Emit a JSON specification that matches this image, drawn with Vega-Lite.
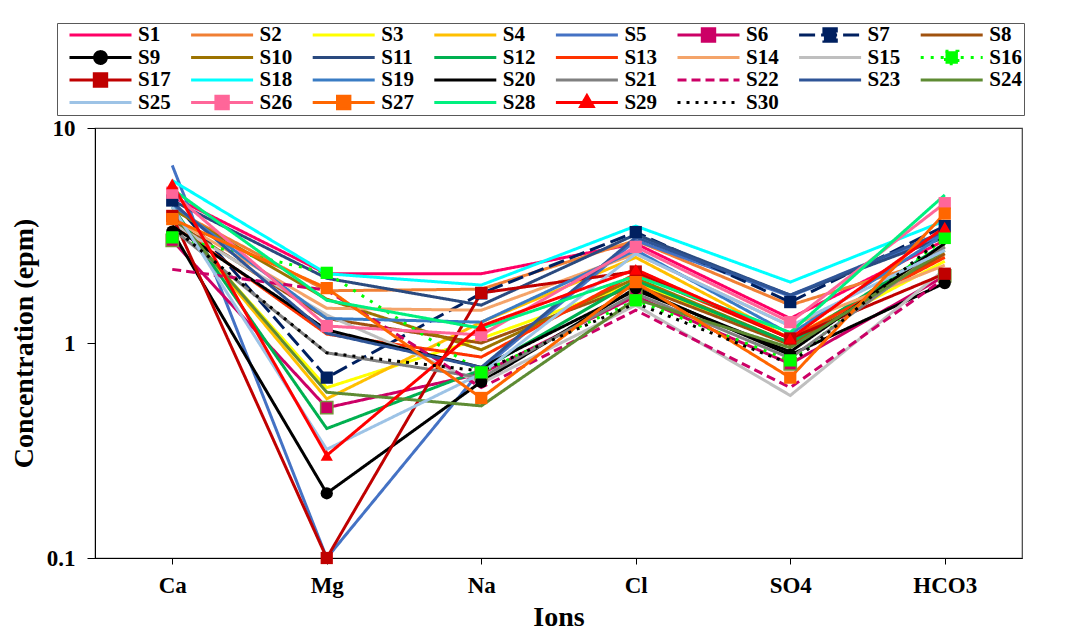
{
  "$schema": "https://vega.github.io/schema/vega-lite/v6.json",
  "width": 927,
  "height": 430,
  "autosize": {"type": "none"},
  "padding": {"left": 95, "top": 128, "right": 47, "bottom": 75},
  "background": "white",
  "config": {
    "view": {"stroke": "#404040", "strokeWidth": 1.2},
    "font": "Liberation Serif",
    "axis": {
      "labelFont": "Liberation Serif", "labelFontWeight": "bold", "labelFontSize": 23, "labelColor": "black",
      "titleFont": "Liberation Serif", "titleFontWeight": "bold", "titleFontSize": 28, "titleColor": "black",
      "domainColor": "black", "tickColor": "black", "grid": false
    }
  },
  "datasets": {
    "ions": [
      {"series":"S1","ion":"Ca","value":4.8},{"series":"S1","ion":"Mg","value":2.1},{"series":"S1","ion":"Na","value":2.1},{"series":"S1","ion":"Cl","value":2.9},{"series":"S1","ion":"SO4","value":1.3},{"series":"S1","ion":"HCO3","value":3.0},
      {"series":"S2","ion":"Ca","value":4.2},{"series":"S2","ion":"Mg","value":1.75},{"series":"S2","ion":"Na","value":1.78},{"series":"S2","ion":"Cl","value":3.0},{"series":"S2","ion":"SO4","value":1.5},{"series":"S2","ion":"HCO3","value":2.5},
      {"series":"S3","ion":"Ca","value":3.9},{"series":"S3","ion":"Mg","value":0.62},{"series":"S3","ion":"Na","value":1.05},{"series":"S3","ion":"Cl","value":1.9},{"series":"S3","ion":"SO4","value":1.0},{"series":"S3","ion":"HCO3","value":2.4},
      {"series":"S4","ion":"Ca","value":4.0},{"series":"S4","ion":"Mg","value":0.55},{"series":"S4","ion":"Na","value":1.25},{"series":"S4","ion":"Cl","value":2.5},{"series":"S4","ion":"SO4","value":1.05},{"series":"S4","ion":"HCO3","value":2.6},
      {"series":"S5","ion":"Ca","value":6.7},{"series":"S5","ion":"Mg","value":0.1},{"series":"S5","ion":"Na","value":0.75},{"series":"S5","ion":"Cl","value":3.0},{"series":"S5","ion":"SO4","value":1.65},{"series":"S5","ion":"HCO3","value":3.2},
      {"series":"S6","ion":"Ca","value":3.0},{"series":"S6","ion":"Mg","value":0.5},{"series":"S6","ion":"Na","value":0.72},{"series":"S6","ion":"Cl","value":1.65},{"series":"S6","ion":"SO4","value":0.8},{"series":"S6","ion":"HCO3","value":2.05},
      {"series":"S7","ion":"Ca","value":4.6},{"series":"S7","ion":"Mg","value":0.69},{"series":"S7","ion":"Na","value":1.7},{"series":"S7","ion":"Cl","value":3.28},{"series":"S7","ion":"SO4","value":1.55},{"series":"S7","ion":"HCO3","value":3.5},
      {"series":"S8","ion":"Ca","value":3.7},{"series":"S8","ion":"Mg","value":1.3},{"series":"S8","ion":"Na","value":1.0},{"series":"S8","ion":"Cl","value":1.85},{"series":"S8","ion":"SO4","value":0.98},{"series":"S8","ion":"HCO3","value":2.6},
      {"series":"S9","ion":"Ca","value":3.3},{"series":"S9","ion":"Mg","value":0.2},{"series":"S9","ion":"Na","value":0.66},{"series":"S9","ion":"Cl","value":1.8},{"series":"S9","ion":"SO4","value":0.88},{"series":"S9","ion":"HCO3","value":1.9},
      {"series":"S10","ion":"Ca","value":4.2},{"series":"S10","ion":"Mg","value":1.6},{"series":"S10","ion":"Na","value":0.93},{"series":"S10","ion":"Cl","value":2.0},{"series":"S10","ion":"SO4","value":1.0},{"series":"S10","ion":"HCO3","value":2.8},
      {"series":"S11","ion":"Ca","value":4.6},{"series":"S11","ion":"Mg","value":2.0},{"series":"S11","ion":"Na","value":1.5},{"series":"S11","ion":"Cl","value":3.2},{"series":"S11","ion":"SO4","value":1.67},{"series":"S11","ion":"HCO3","value":3.1},
      {"series":"S12","ion":"Ca","value":4.3},{"series":"S12","ion":"Mg","value":0.4},{"series":"S12","ion":"Na","value":0.75},{"series":"S12","ion":"Cl","value":1.95},{"series":"S12","ion":"SO4","value":1.0},{"series":"S12","ion":"HCO3","value":2.9},
      {"series":"S13","ion":"Ca","value":3.6},{"series":"S13","ion":"Mg","value":1.1},{"series":"S13","ion":"Na","value":0.86},{"series":"S13","ion":"Cl","value":2.1},{"series":"S13","ion":"SO4","value":1.05},{"series":"S13","ion":"HCO3","value":2.5},
      {"series":"S14","ion":"Ca","value":3.8},{"series":"S14","ion":"Mg","value":1.45},{"series":"S14","ion":"Na","value":1.42},{"series":"S14","ion":"Cl","value":2.6},{"series":"S14","ion":"SO4","value":1.2},{"series":"S14","ion":"HCO3","value":2.3},
      {"series":"S15","ion":"Ca","value":3.6},{"series":"S15","ion":"Mg","value":1.35},{"series":"S15","ion":"Na","value":0.65},{"series":"S15","ion":"Cl","value":1.5},{"series":"S15","ion":"SO4","value":0.57},{"series":"S15","ion":"HCO3","value":2.2},
      {"series":"S16","ion":"Ca","value":3.1},{"series":"S16","ion":"Mg","value":2.12},{"series":"S16","ion":"Na","value":0.73},{"series":"S16","ion":"Cl","value":1.58},{"series":"S16","ion":"SO4","value":0.83},{"series":"S16","ion":"HCO3","value":3.08},
      {"series":"S17","ion":"Ca","value":3.9},{"series":"S17","ion":"Mg","value":0.1},{"series":"S17","ion":"Na","value":1.71},{"series":"S17","ion":"Cl","value":2.15},{"series":"S17","ion":"SO4","value":1.05},{"series":"S17","ion":"HCO3","value":2.1},
      {"series":"S18","ion":"Ca","value":5.7},{"series":"S18","ion":"Mg","value":2.1},{"series":"S18","ion":"Na","value":1.86},{"series":"S18","ion":"Cl","value":3.5},{"series":"S18","ion":"SO4","value":1.92},{"series":"S18","ion":"HCO3","value":3.7},
      {"series":"S19","ion":"Ca","value":4.4},{"series":"S19","ion":"Mg","value":1.3},{"series":"S19","ion":"Na","value":1.25},{"series":"S19","ion":"Cl","value":2.7},{"series":"S19","ion":"SO4","value":1.1},{"series":"S19","ion":"HCO3","value":3.2},
      {"series":"S20","ion":"Ca","value":3.5},{"series":"S20","ion":"Mg","value":1.15},{"series":"S20","ion":"Na","value":0.77},{"series":"S20","ion":"Cl","value":1.76},{"series":"S20","ion":"SO4","value":0.91},{"series":"S20","ion":"HCO3","value":2.9},
      {"series":"S21","ion":"Ca","value":3.4},{"series":"S21","ion":"Mg","value":0.9},{"series":"S21","ion":"Na","value":0.69},{"series":"S21","ion":"Cl","value":1.7},{"series":"S21","ion":"SO4","value":0.85},{"series":"S21","ion":"HCO3","value":2.8},
      {"series":"S22","ion":"Ca","value":2.2},{"series":"S22","ion":"Mg","value":1.76},{"series":"S22","ion":"Na","value":0.62},{"series":"S22","ion":"Cl","value":1.42},{"series":"S22","ion":"SO4","value":0.62},{"series":"S22","ion":"HCO3","value":2.0},
      {"series":"S23","ion":"Ca","value":4.5},{"series":"S23","ion":"Mg","value":1.11},{"series":"S23","ion":"Na","value":0.77},{"series":"S23","ion":"Cl","value":3.1},{"series":"S23","ion":"SO4","value":1.67},{"series":"S23","ion":"HCO3","value":3.3},
      {"series":"S24","ion":"Ca","value":4.0},{"series":"S24","ion":"Mg","value":0.59},{"series":"S24","ion":"Na","value":0.51},{"series":"S24","ion":"Cl","value":1.6},{"series":"S24","ion":"SO4","value":0.95},{"series":"S24","ion":"HCO3","value":2.7},
      {"series":"S25","ion":"Ca","value":4.3},{"series":"S25","ion":"Mg","value":0.32},{"series":"S25","ion":"Na","value":0.72},{"series":"S25","ion":"Cl","value":2.6},{"series":"S25","ion":"SO4","value":1.2},{"series":"S25","ion":"HCO3","value":2.7},
      {"series":"S26","ion":"Ca","value":5.0},{"series":"S26","ion":"Mg","value":1.2},{"series":"S26","ion":"Na","value":1.09},{"series":"S26","ion":"Cl","value":2.8},{"series":"S26","ion":"SO4","value":1.25},{"series":"S26","ion":"HCO3","value":4.47},
      {"series":"S27","ion":"Ca","value":3.77},{"series":"S27","ion":"Mg","value":1.8},{"series":"S27","ion":"Na","value":0.555},{"series":"S27","ion":"Cl","value":1.92},{"series":"S27","ion":"SO4","value":0.69},{"series":"S27","ion":"HCO3","value":4.0},
      {"series":"S28","ion":"Ca","value":5.2},{"series":"S28","ion":"Mg","value":1.58},{"series":"S28","ion":"Na","value":1.17},{"series":"S28","ion":"Cl","value":2.05},{"series":"S28","ion":"SO4","value":1.12},{"series":"S28","ion":"HCO3","value":4.88},
      {"series":"S29","ion":"Ca","value":5.5},{"series":"S29","ion":"Mg","value":0.3},{"series":"S29","ion":"Na","value":1.2},{"series":"S29","ion":"Cl","value":2.2},{"series":"S29","ion":"SO4","value":1.05},{"series":"S29","ion":"HCO3","value":3.46},
      {"series":"S30","ion":"Ca","value":3.46},{"series":"S30","ion":"Mg","value":0.9},{"series":"S30","ion":"Na","value":0.74},{"series":"S30","ion":"Cl","value":1.53},{"series":"S30","ion":"SO4","value":0.8},{"series":"S30","ion":"HCO3","value":3.15}
    ]
  },
  "data": {"name": "ions"},
  "encoding": {
    "x": {
      "field": "ion", "type": "nominal",
      "sort": ["Ca", "Mg", "Na", "Cl", "SO4", "HCO3"],
      "scale": {"type": "point", "padding": 0.5},
      "axis": {"title": "Ions", "labelAngle": 0, "tickSize": 6, "labelPadding": 10, "titlePadding": 6}
    },
    "y": {
      "field": "value", "type": "quantitative",
      "scale": {"type": "log", "domain": [0.1, 10], "nice": false},
      "axis": {"title": "Concentration (epm)", "values": [0.1, 1, 10], "format": "~g", "tickSize": 8, "labelPadding": 12, "titlePadding": 8}
    }
  },
  "layer": [
    {
      "mark": {"type": "line", "strokeWidth": 3, "clip": false},
      "encoding": {
        "color": {
          "field": "series", "type": "nominal",
          "scale": {
            "domain": ["S1","S2","S3","S4","S5","S6","S7","S8","S9","S10","S11","S12","S13","S14","S15","S16","S17","S18","S19","S20","S21","S22","S23","S24","S25","S26","S27","S28","S29","S30"],
            "range": ["#FF0066","#F07F34","#FFFF00","#FFC000","#4472C4","#CC0066","#002060","#A0520F","#000000","#9C7300","#2A4A7F","#00B050","#FF3300","#F4A46A","#BFBFBF","#00FF00","#C00000","#00FFFF","#3A7CC4","#000000","#808080","#CC0066","#2F5597","#5E8B33","#9DC3E6","#FF6699","#FF6600","#00F07F","#FF0000","#000000"]
          },
          "legend": {
            "title": null, "orient": "none", "legendX": -38, "legendY": -105,
            "columns": 8, "gridAlign": "all", "direction": "horizontal",
            "symbolType": "M-1,0H1", "symbolSize": 3844, "symbolStrokeWidth": 3,
            "symbolOffset": 9, "labelOffset": 5, "clipHeight": 20,
            "labelFont": "Liberation Serif", "labelFontSize": 21, "labelFontWeight": "bold", "labelColor": "black",
            "columnPadding": 9.6, "rowPadding": 1.5, "padding": 2,
            "strokeColor": "#595959",
            "encode": {
              "symbols": {
                "update": {
                  "shape": {"signal": "datum.value === 'S9' ? 'M-1,0H1M0.19,0A0.19,0.19,0,1,1,-0.19,0A0.19,0.19,0,1,1,0.19,0Z' : datum.value === 'S29' ? 'M-1,0H1M0,-0.22L0.2,0.13H-0.2Z' : indexof(['S6','S7','S16','S17','S26','S27'], datum.value) >= 0 ? 'M-1,0H1M-0.2,-0.2H0.2V0.2H-0.2Z' : 'M-1,0H1'"},
                  "strokeDash": {"scale": "strokeDash", "field": "value"},
                  "fill": {"scale": "color", "field": "value"},
                  "stroke": {"scale": "color", "field": "value"},
                  "strokeWidth": {"value": 3},
                  "opacity": {"value": 1}
                }
              }
            }
          }
        },
        "strokeDash": {
          "field": "series", "type": "nominal", "legend": null,
          "scale": {
            "domain": ["S1","S2","S3","S4","S5","S6","S7","S8","S9","S10","S11","S12","S13","S14","S15","S16","S17","S18","S19","S20","S21","S22","S23","S24","S25","S26","S27","S28","S29","S30"],
            "range": [[1,0],[1,0],[1,0],[1,0],[1,0],[1,0],[16,6],[1,0],[1,0],[1,0],[1,0],[1,0],[1,0],[1,0],[1,0],[3,7],[1,0],[1,0],[1,0],[1,0],[1,0],[9,5],[1,0],[1,0],[1,0],[1,0],[1,0],[1,0],[1,0],[3,6]]
          }
        }
      }
    },
    {
      "transform": [{"filter": {"field": "series", "oneOf": ["S6","S7","S9","S16","S17","S26","S27","S29"]}}],
      "mark": {"type": "point", "filled": true, "opacity": 1, "size": 150, "strokeWidth": 1.5, "clip": false},
      "encoding": {
        "color": {"field": "series", "type": "nominal"},
        "shape": {
          "field": "series", "type": "nominal", "legend": null,
          "scale": {"domain": ["S6","S7","S9","S16","S17","S26","S27","S29"], "range": ["square","square","circle","square","square","square","square","triangle-up"]}
        },
        "stroke": {"condition": {"test": "datum.series === 'S6'", "value": "#77933C"}, "value": "transparent"}
      }
    }
  ]
}
